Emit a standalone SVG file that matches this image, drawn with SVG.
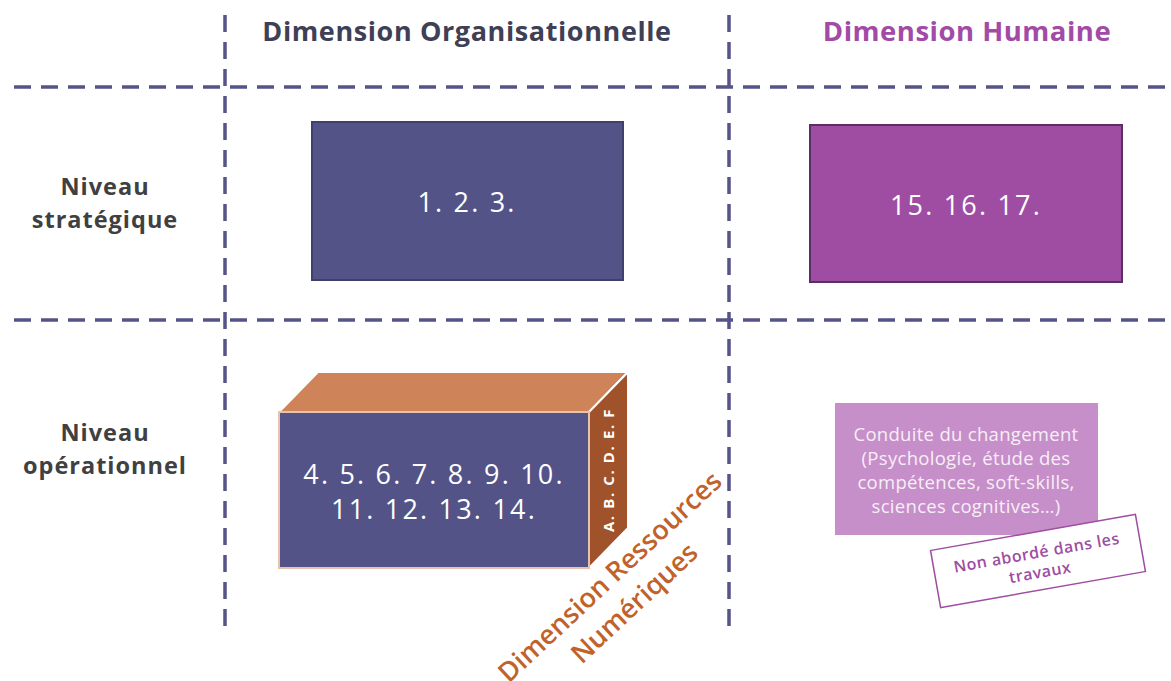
<svg xmlns="http://www.w3.org/2000/svg" width="1171" height="681" viewBox="0 0 1171 681">
<style>
.grid{stroke:#545488;stroke-width:3.5;stroke-dasharray:17 10;fill:none}
.t{font-family:"Open Sans","DejaVu Sans",sans-serif}
.hdr{font-size:27px;font-weight:bold;text-anchor:middle;letter-spacing:0.6px}
.lvl{font-size:23.5px;font-weight:bold;fill:#404040;text-anchor:middle;letter-spacing:1px}
.wt{fill:#ffffff;text-anchor:middle}
.num{font-size:27px;letter-spacing:2.2px}
.cd{font-size:18.5px;fill:#F7EEF7;text-anchor:middle;letter-spacing:0.3px}
.nt{font-size:16px;font-weight:600;fill:#9E4DA2;text-anchor:middle;letter-spacing:0.5px}
</style>
<rect width="1171" height="681" fill="#ffffff"/>
<g id="grid">
<line class="grid" x1="225" y1="15" x2="225" y2="636"/>
<line class="grid" x1="729" y1="15" x2="729" y2="636"/>
<line class="grid" x1="14" y1="87" x2="1171" y2="87"/>
<line class="grid" x1="14" y1="320" x2="1171" y2="320"/>
</g>
<g id="headers" class="t">
<text class="hdr" x="467" y="41" fill="#3F3F55">Dimension Organisationnelle</text>
<text class="hdr" x="967" y="41" fill="#A14BA6" style="letter-spacing:0.5px;font-size:27.5px">Dimension Humaine</text>
</g>
<g id="levels" class="t">
<text class="lvl" x="105" y="195">Niveau</text>
<text class="lvl" x="105" y="228">stratégique</text>
<text class="lvl" x="105" y="441">Niveau</text>
<text class="lvl" x="105" y="474">opérationnel</text>
</g>
<g id="org-strat">
<rect x="312" y="122" width="311" height="158" fill="#535388" stroke="#40406E" stroke-width="2"/>
<text class="t wt num" x="467" y="212">1. 2. 3.</text>
</g>
<g id="hum-strat">
<rect x="810" y="125" width="312" height="157" fill="#9E4DA2" stroke="#5A2E66" stroke-width="2"/>
<text class="t wt num" x="966" y="215">15. 16. 17.</text>
</g>
<g id="org-oper">
<polygon points="279,412 318,372 628,372 589,412" fill="#CE8359" stroke="#ffffff" stroke-width="2"/>
<polygon points="589,412 628,372 628,528 589,568" fill="#A0532A" stroke="#ffffff" stroke-width="2"/>
<rect x="279" y="412" width="310" height="156" fill="#535388" stroke="#E7C3AE" stroke-width="2"/>
<text class="t wt num" x="434" y="484">4. 5. 6. 7. 8. 9. 10.</text>
<text class="t wt num" x="434" y="519">11. 12. 13. 14.</text>
<text class="t wt" transform="translate(614,470) rotate(-90)" x="0" y="0" font-size="15" font-weight="bold" letter-spacing="1.6">A. B. C. D. E. F</text>
</g>
<g id="ressources" class="t" transform="translate(610,577) rotate(-43)">
<text x="0" y="9" font-size="27" font-weight="600" fill="#C0622A" text-anchor="middle">Dimension Ressources</text>
<text x="0" y="45" font-size="27" font-weight="600" fill="#C0622A" text-anchor="middle">Numériques</text>
</g>
<g id="hum-oper">
<rect x="835" y="403" width="263" height="132" fill="#C68FC9"/>
<text class="t cd" x="966" y="441">Conduite du changement</text>
<text class="t cd" x="966" y="465">(Psychologie, étude des</text>
<text class="t cd" x="966" y="489">compétences, soft-skills,</text>
<text class="t cd" x="966" y="513">sciences cognitives…)</text>
</g>
<g id="note" transform="translate(1038,561) rotate(-10)">
<rect x="-104" y="-29" width="208" height="58" fill="#ffffff" stroke="#9E4DA2" stroke-width="1.5"/>
<text class="t nt" x="0" y="-3">Non abordé dans les</text>
<text class="t nt" x="0" y="17">travaux</text>
</g>
</svg>
